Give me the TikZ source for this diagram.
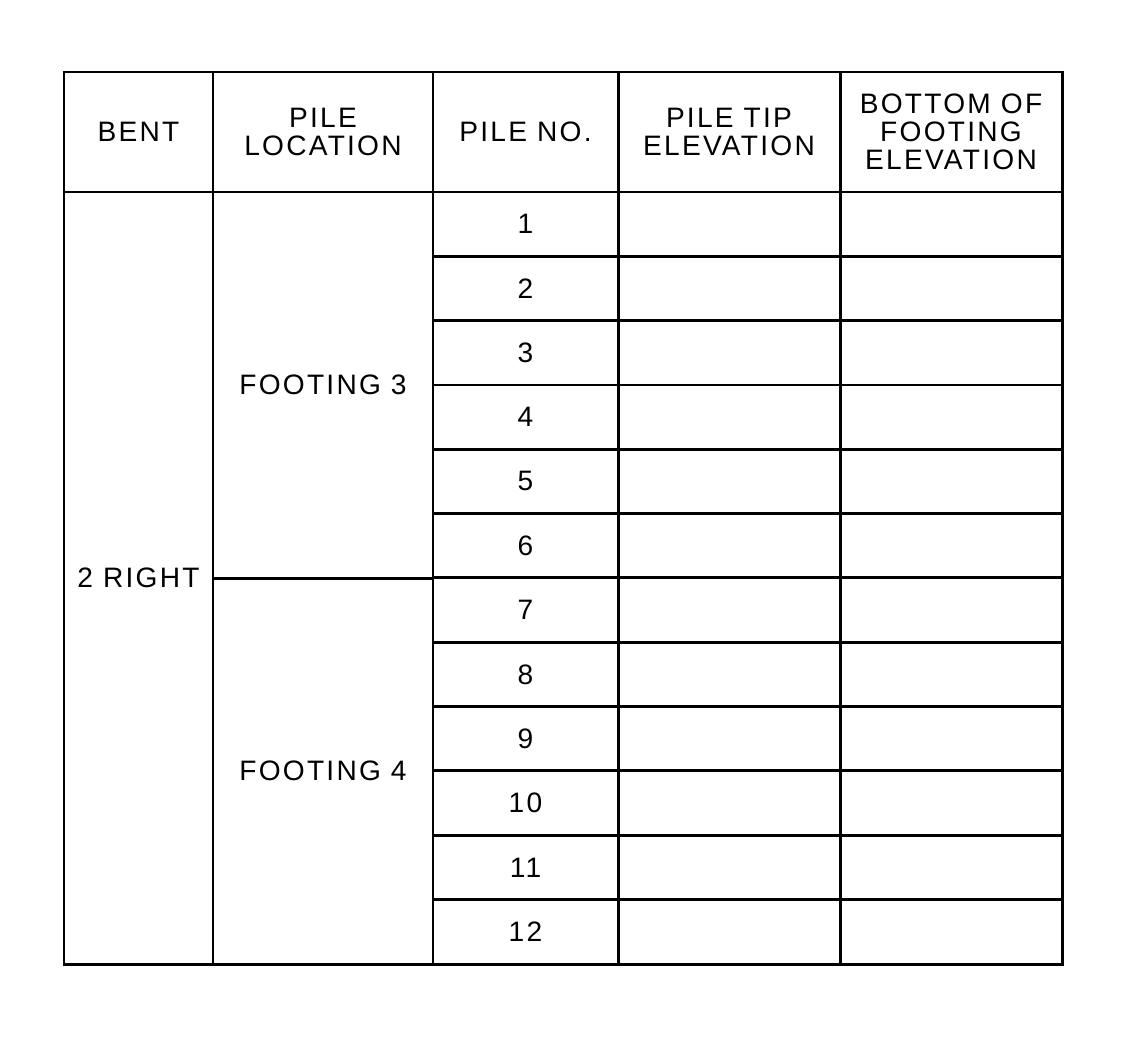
\documentclass[tikz,border=0pt]{standalone}
\usepackage{fontspec}
\setmainfont[LetterSpace=8]{Liberation Sans}
\usepackage{tikz}
\tikzset{
  rule/.style={line width=1.7pt},
  cell/.style={align=center, font=\fontsize{16}{16}\selectfont, inner sep=0pt}
}

\begin{document}
\begin{tikzpicture}[x=0.02cm, y=-0.02cm]
\useasboundingbox (0,0) rectangle (1126,1038);
% frame and columns
\draw[rule] (64,72) rectangle (1062,964);
\foreach \cx in {213,433,618,840} \draw[rule] (\cx,72) -- (\cx,964);
\draw[rule] (64,192) -- (1062,192);
\draw[rule] (213,578) -- (433,578);
\foreach \r in {1,...,11} \draw[rule] (433,192+\r*64.33) -- (1062,192+\r*64.33);
% header
\node[cell] (bent) at (138.5,132) {BENT};
\node[cell] (loc) at (323,132) {PILE\\LOCATION};
\node[cell] (no) at (525.5,132) {PILE NO.};
\node[cell] (tip) at (729,132) {PILE TIP\\ELEVATION};
\node[cell] (bof) at (951,132) {BOTTOM OF\\FOOTING\\ELEVATION};
% body
\node[cell] (b2) at (138.5,578) {2 RIGHT};
\node[cell] (f3) at (323,385) {FOOTING 3};
\node[cell] (f4) at (323,771) {FOOTING 4};
\foreach \n in {1,...,12}
  \node[cell] (p\n) at (525.5,192+\n*64.33-32.2) {\n};
\end{tikzpicture}
\end{document}
